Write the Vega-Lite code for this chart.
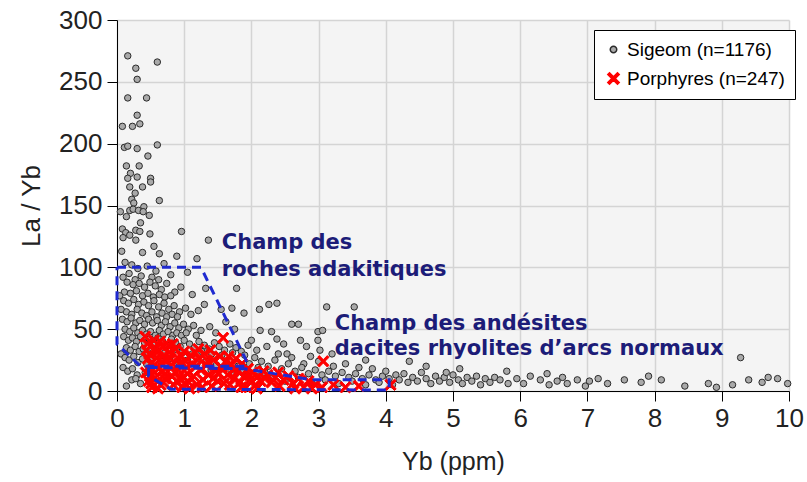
{
"$schema":"https://vega.github.io/schema/vega-lite/v6.json",
"width":672,"height":371,
"autosize":{"type":"none"},
"padding":{"left":117,"top":20,"right":18,"bottom":91},
"background":"white",
"config":{"view":{"fill":"#f4f4f4","stroke":null},"font":"Liberation Sans"},
"datasets":{
"pts":[
{"s":"S","x":0.16,"y":271},{"s":"S","x":0.6,"y":266},{"s":"S","x":0.28,"y":261},{"s":"S","x":0.3,"y":252},{"s":"S","x":0.16,"y":237},{"s":"S","x":0.44,"y":237},{"s":"S","x":0.3,"y":223},{"s":"S","x":0.08,"y":214},{"s":"S","x":0.23,"y":214},{"s":"S","x":0.34,"y":216},{"s":"S","x":0.11,"y":197},{"s":"S","x":0.16,"y":198},{"s":"S","x":0.3,"y":196},{"s":"S","x":0.6,"y":199},{"s":"S","x":0.46,"y":190},{"s":"S","x":0.14,"y":182},{"s":"S","x":0.33,"y":182},{"s":"S","x":0.2,"y":176},{"s":"S","x":0.16,"y":172},{"s":"S","x":0.3,"y":173},{"s":"S","x":0.5,"y":172},{"s":"S","x":0.5,"y":169},{"s":"S","x":0.19,"y":165},{"s":"S","x":0.38,"y":165},{"s":"S","x":0.27,"y":160},{"s":"S","x":0.22,"y":155},{"s":"S","x":0.25,"y":152},{"s":"S","x":0.63,"y":154},{"s":"S","x":0.05,"y":145},{"s":"S","x":0.14,"y":141},{"s":"S","x":0.19,"y":146},{"s":"S","x":0.24,"y":147},{"s":"S","x":0.32,"y":146},{"s":"S","x":0.4,"y":149},{"s":"S","x":0.39,"y":145},{"s":"S","x":0.48,"y":142},{"s":"S","x":0.35,"y":136},{"s":"S","x":0.08,"y":131},{"s":"S","x":0.13,"y":128},{"s":"S","x":0.19,"y":126},{"s":"S","x":0.28,"y":130},{"s":"S","x":0.34,"y":129},{"s":"S","x":0.49,"y":127},{"s":"S","x":0.96,"y":129},{"s":"S","x":1.36,"y":122},{"s":"S","x":0.09,"y":124},{"s":"S","x":0.28,"y":122},{"s":"S","x":0.55,"y":117},{"s":"S","x":0.89,"y":109},{"s":"S","x":1.19,"y":107},{"s":"S","x":0.07,"y":113},{"s":"S","x":0.38,"y":112},{"s":"S","x":0.63,"y":111},
{"s":"S","x":0.12,"y":104},{"s":"S","x":0.22,"y":102},{"s":"S","x":0.31,"y":99},{"s":"S","x":0.45,"y":101},{"s":"S","x":0.58,"y":97},{"s":"S","x":0.7,"y":103},{"s":"S","x":0.18,"y":95},{"s":"S","x":0.36,"y":93},{"s":"S","x":0.52,"y":92},{"s":"S","x":0.8,"y":94},{"s":"S","x":1.05,"y":96},{"s":"S","x":0.27,"y":90},{"s":"S","x":0.62,"y":90},{"s":"S","x":0.09,"y":92},
{"s":"S","x":0.15,"y":88},{"s":"S","x":0.24,"y":86},{"s":"S","x":0.33,"y":87},{"s":"S","x":0.41,"y":84},{"s":"S","x":0.49,"y":88},{"s":"S","x":0.57,"y":85},{"s":"S","x":0.66,"y":82},{"s":"S","x":0.74,"y":87},{"s":"S","x":0.86,"y":80},{"s":"S","x":0.95,"y":84},{"s":"S","x":1.12,"y":78},{"s":"S","x":0.11,"y":80},{"s":"S","x":0.2,"y":79},{"s":"S","x":0.29,"y":81},{"s":"S","x":0.38,"y":77},{"s":"S","x":0.46,"y":79},{"s":"S","x":0.54,"y":76},{"s":"S","x":0.63,"y":78},{"s":"S","x":0.71,"y":76},{"s":"S","x":0.8,"y":77},{"s":"S","x":1.32,"y":83},{"s":"S","x":0.04,"y":77},
{"s":"S","x":0.1,"y":73},{"s":"S","x":0.17,"y":71},{"s":"S","x":0.25,"y":74},{"s":"S","x":0.32,"y":70},{"s":"S","x":0.4,"y":72},{"s":"S","x":0.47,"y":69},{"s":"S","x":0.55,"y":73},{"s":"S","x":0.62,"y":68},{"s":"S","x":0.7,"y":71},{"s":"S","x":0.77,"y":66},{"s":"S","x":0.85,"y":69},{"s":"S","x":0.93,"y":64},{"s":"S","x":1.02,"y":67},{"s":"S","x":1.1,"y":62},{"s":"S","x":1.21,"y":65},{"s":"S","x":0.14,"y":64},{"s":"S","x":0.22,"y":62},{"s":"S","x":0.3,"y":66},{"s":"S","x":0.37,"y":63},{"s":"S","x":0.44,"y":61},{"s":"S","x":0.52,"y":64},{"s":"S","x":0.59,"y":60},{"s":"S","x":0.67,"y":63},{"s":"S","x":0.74,"y":60},{"s":"S","x":0.82,"y":62},{"s":"S","x":0.9,"y":60},{"s":"S","x":1.3,"y":70},{"s":"S","x":1.55,"y":66},{"s":"S","x":0.06,"y":66},
{"s":"S","x":0.08,"y":58},{"s":"S","x":0.15,"y":56},{"s":"S","x":0.21,"y":59},{"s":"S","x":0.28,"y":55},{"s":"S","x":0.34,"y":57},{"s":"S","x":0.41,"y":54},{"s":"S","x":0.47,"y":58},{"s":"S","x":0.53,"y":55},{"s":"S","x":0.6,"y":57},{"s":"S","x":0.66,"y":53},{"s":"S","x":0.72,"y":56},{"s":"S","x":0.79,"y":52},{"s":"S","x":0.86,"y":55},{"s":"S","x":0.92,"y":51},{"s":"S","x":0.99,"y":54},{"s":"S","x":1.06,"y":50},{"s":"S","x":1.14,"y":53},{"s":"S","x":1.25,"y":49},{"s":"S","x":1.38,"y":52},{"s":"S","x":1.47,"y":47},{"s":"S","x":0.12,"y":50},{"s":"S","x":0.19,"y":48},{"s":"S","x":0.25,"y":51},{"s":"S","x":0.31,"y":47},{"s":"S","x":0.38,"y":49},{"s":"S","x":0.44,"y":46},{"s":"S","x":0.5,"y":48},{"s":"S","x":0.57,"y":45},{"s":"S","x":0.63,"y":49},{"s":"S","x":0.69,"y":46},{"s":"S","x":0.76,"y":48},{"s":"S","x":0.83,"y":45},{"s":"S","x":0.89,"y":47},{"s":"S","x":0.96,"y":45},{"s":"S","x":1.03,"y":47},{"s":"S","x":1.18,"y":45},{"s":"S","x":1.62,"y":56},{"s":"S","x":1.75,"y":50},
{"s":"S","x":0.1,"y":44},{"s":"S","x":0.17,"y":41},{"s":"S","x":0.23,"y":43},{"s":"S","x":0.29,"y":40},{"s":"S","x":0.35,"y":44},{"s":"S","x":0.41,"y":39},{"s":"S","x":0.48,"y":42},{"s":"S","x":0.55,"y":38},{"s":"S","x":0.61,"y":43},{"s":"S","x":0.68,"y":40},{"s":"S","x":0.74,"y":37},{"s":"S","x":0.81,"y":42},{"s":"S","x":0.87,"y":39},{"s":"S","x":0.94,"y":36},{"s":"S","x":1.0,"y":41},{"s":"S","x":1.08,"y":38},{"s":"S","x":1.15,"y":35},{"s":"S","x":1.22,"y":40},{"s":"S","x":1.3,"y":37},{"s":"S","x":1.37,"y":34},{"s":"S","x":1.45,"y":39},{"s":"S","x":1.52,"y":36},{"s":"S","x":1.6,"y":33},{"s":"S","x":1.68,"y":38},{"s":"S","x":1.77,"y":35},{"s":"S","x":1.85,"y":32},{"s":"S","x":1.95,"y":37},{"s":"S","x":0.14,"y":35},{"s":"S","x":0.2,"y":33},{"s":"S","x":0.27,"y":36},{"s":"S","x":0.33,"y":32},{"s":"S","x":0.39,"y":34},{"s":"S","x":0.46,"y":31},{"s":"S","x":0.58,"y":33},{"s":"S","x":0.71,"y":31},{"s":"S","x":0.84,"y":33},{"s":"S","x":0.97,"y":31},{"s":"S","x":1.12,"y":30},{"s":"S","x":1.26,"y":32},{"s":"S","x":1.41,"y":30},{"s":"S","x":1.56,"y":29},{"s":"S","x":1.72,"y":31},{"s":"S","x":1.9,"y":29},
{"s":"S","x":0.06,"y":30},{"s":"S","x":0.12,"y":27},{"s":"S","x":0.18,"y":25},{"s":"S","x":0.25,"y":28},{"s":"S","x":0.31,"y":23},{"s":"S","x":0.38,"y":26},{"s":"S","x":0.44,"y":22},{"s":"S","x":0.52,"y":27},{"s":"S","x":0.65,"y":24},{"s":"S","x":0.78,"y":26},{"s":"S","x":0.92,"y":23},{"s":"S","x":1.05,"y":25},{"s":"S","x":1.19,"y":22},{"s":"S","x":1.33,"y":24},{"s":"S","x":1.48,"y":21},{"s":"S","x":1.63,"y":23},{"s":"S","x":1.8,"y":20},{"s":"S","x":1.97,"y":22},{"s":"S","x":2.1,"y":19},{"s":"S","x":0.09,"y":19},{"s":"S","x":0.16,"y":16},{"s":"S","x":0.23,"y":18},{"s":"S","x":0.3,"y":13},{"s":"S","x":0.22,"y":9},{"s":"S","x":0.14,"y":4},{"s":"S","x":0.35,"y":6},{"s":"S","x":0.28,"y":10},{"s":"S","x":0.42,"y":15},{"s":"S","x":1.4,"y":17},{"s":"S","x":1.7,"y":14},{"s":"S","x":1.88,"y":16},
{"s":"S","x":1.78,"y":83},{"s":"S","x":1.89,"y":63},{"s":"S","x":2.12,"y":66},{"s":"S","x":2.26,"y":70},{"s":"S","x":2.38,"y":71},{"s":"S","x":1.71,"y":67},{"s":"S","x":3.12,"y":68},{"s":"S","x":2.6,"y":54},{"s":"S","x":2.7,"y":54},{"s":"S","x":2.99,"y":48},{"s":"S","x":2.99,"y":41},{"s":"S","x":2.82,"y":36},{"s":"S","x":2.13,"y":49},{"s":"S","x":2.3,"y":48},{"s":"S","x":2.0,"y":41},{"s":"S","x":2.08,"y":33},{"s":"S","x":2.23,"y":36},{"s":"S","x":2.38,"y":42},{"s":"S","x":2.53,"y":30},{"s":"S","x":2.78,"y":22},{"s":"S","x":3.22,"y":20},{"s":"S","x":3.53,"y":68},{"s":"S","x":3.06,"y":49},{"s":"S","x":2.73,"y":41},
{"s":"S","x":2.05,"y":27},{"s":"S","x":2.15,"y":24},{"s":"S","x":2.25,"y":20},{"s":"S","x":2.35,"y":25},{"s":"S","x":2.45,"y":18},{"s":"S","x":2.55,"y":22},{"s":"S","x":2.65,"y":16},{"s":"S","x":2.75,"y":19},{"s":"S","x":2.85,"y":14},{"s":"S","x":2.95,"y":17},{"s":"S","x":3.05,"y":13},{"s":"S","x":3.15,"y":16},{"s":"S","x":3.25,"y":12},{"s":"S","x":3.35,"y":15},{"s":"S","x":3.45,"y":11},{"s":"S","x":3.55,"y":14},{"s":"S","x":3.65,"y":10},{"s":"S","x":3.75,"y":13},{"s":"S","x":3.85,"y":9},{"s":"S","x":3.95,"y":12},{"s":"S","x":4.05,"y":10},{"s":"S","x":4.15,"y":13},{"s":"S","x":2.1,"y":12},{"s":"S","x":2.3,"y":10},{"s":"S","x":2.5,"y":8},{"s":"S","x":2.7,"y":11},{"s":"S","x":2.9,"y":7},{"s":"S","x":3.1,"y":9},{"s":"S","x":3.3,"y":6},{"s":"S","x":3.5,"y":8},{"s":"S","x":3.7,"y":5},{"s":"S","x":3.9,"y":7},{"s":"S","x":4.1,"y":5},{"s":"S","x":2.4,"y":30},{"s":"S","x":2.6,"y":27},{"s":"S","x":2.88,"y":28},{"s":"S","x":3.0,"y":24},{"s":"S","x":3.4,"y":22},{"s":"S","x":3.6,"y":19},{"s":"S","x":3.8,"y":18},{"s":"S","x":4.0,"y":16},{"s":"S","x":3.2,"y":30},{"s":"S","x":3.7,"y":25},{"s":"S","x":2.2,"y":15},{"s":"S","x":1.95,"y":12},{"s":"S","x":3.02,"y":33},{"s":"S","x":2.48,"y":38},
{"s":"S","x":4.2,"y":9},{"s":"S","x":4.27,"y":14},{"s":"S","x":4.33,"y":7},{"s":"S","x":4.4,"y":11},{"s":"S","x":4.47,"y":8},{"s":"S","x":4.53,"y":15},{"s":"S","x":4.6,"y":10},{"s":"S","x":4.67,"y":6},{"s":"S","x":4.74,"y":12},{"s":"S","x":4.8,"y":8},{"s":"S","x":4.87,"y":11},{"s":"S","x":4.95,"y":7},{"s":"S","x":5.0,"y":13},{"s":"S","x":5.08,"y":9},{"s":"S","x":5.14,"y":6},{"s":"S","x":5.21,"y":11},{"s":"S","x":5.28,"y":8},{"s":"S","x":5.35,"y":12},{"s":"S","x":5.41,"y":5},{"s":"S","x":5.48,"y":10},{"s":"S","x":5.55,"y":7},{"s":"S","x":5.62,"y":11},{"s":"S","x":5.7,"y":9},{"s":"S","x":5.82,"y":6},{"s":"S","x":5.95,"y":10},{"s":"S","x":6.05,"y":6},{"s":"S","x":6.15,"y":12},{"s":"S","x":6.3,"y":9},{"s":"S","x":6.43,"y":5},{"s":"S","x":6.55,"y":8},{"s":"S","x":6.63,"y":11},{"s":"S","x":6.7,"y":6},{"s":"S","x":6.85,"y":9},{"s":"S","x":6.97,"y":4},{"s":"S","x":7.03,"y":8},{"s":"S","x":7.16,"y":10},{"s":"S","x":7.3,"y":6},{"s":"S","x":7.55,"y":9},{"s":"S","x":7.8,"y":7},{"s":"S","x":7.91,"y":12},{"s":"S","x":8.1,"y":9},{"s":"S","x":8.45,"y":4},{"s":"S","x":8.8,"y":6},{"s":"S","x":8.92,"y":3},{"s":"S","x":9.16,"y":5},{"s":"S","x":9.28,"y":27},{"s":"S","x":9.4,"y":9},{"s":"S","x":9.6,"y":7},{"s":"S","x":9.69,"y":11},{"s":"S","x":9.83,"y":10},{"s":"S","x":9.98,"y":6},{"s":"S","x":5.1,"y":18},{"s":"S","x":4.6,"y":20},{"s":"S","x":5.8,"y":16},{"s":"S","x":6.4,"y":14},{"s":"S","x":4.35,"y":24},{"s":"S","x":4.9,"y":15},
{"s":"P","x":0.42,"y":44},{"s":"P","x":0.45,"y":38},{"s":"P","x":0.48,"y":30},{"s":"P","x":0.5,"y":22},{"s":"P","x":0.43,"y":15},{"s":"P","x":0.47,"y":8},{"s":"P","x":0.52,"y":3},{"s":"P","x":0.55,"y":41},{"s":"P","x":0.58,"y":34},{"s":"P","x":0.6,"y":27},{"s":"P","x":0.62,"y":18},{"s":"P","x":0.57,"y":11},{"s":"P","x":0.65,"y":5},{"s":"P","x":0.68,"y":36},{"s":"P","x":0.7,"y":29},{"s":"P","x":0.66,"y":23},{"s":"P","x":0.72,"y":14},{"s":"P","x":0.69,"y":7},{"s":"P","x":0.46,"y":26},{"s":"P","x":0.53,"y":17},{"s":"P","x":0.61,"y":2},{"s":"P","x":0.44,"y":33},{"s":"P","x":0.49,"y":12},{"s":"P","x":0.64,"y":40},{"s":"P","x":0.56,"y":21},{"s":"P","x":0.71,"y":10},{"s":"P","x":0.59,"y":31},{"s":"P","x":0.67,"y":16},{"s":"P","x":0.51,"y":6},{"s":"P","x":0.74,"y":25},
{"s":"P","x":0.76,"y":37},{"s":"P","x":0.78,"y":31},{"s":"P","x":0.8,"y":20},{"s":"P","x":0.82,"y":12},{"s":"P","x":0.84,"y":5},{"s":"P","x":0.87,"y":34},{"s":"P","x":0.9,"y":27},{"s":"P","x":0.92,"y":17},{"s":"P","x":0.95,"y":9},{"s":"P","x":0.97,"y":3},{"s":"P","x":1.0,"y":32},{"s":"P","x":1.02,"y":24},{"s":"P","x":1.05,"y":14},{"s":"P","x":1.07,"y":7},{"s":"P","x":1.1,"y":29},{"s":"P","x":0.79,"y":26},{"s":"P","x":0.86,"y":15},{"s":"P","x":0.93,"y":22},{"s":"P","x":0.99,"y":11},{"s":"P","x":1.04,"y":19},{"s":"P","x":1.08,"y":2},{"s":"P","x":0.83,"y":38},{"s":"P","x":0.89,"y":8},{"s":"P","x":0.96,"y":28},{"s":"P","x":1.01,"y":6},
{"s":"P","x":1.12,"y":22},{"s":"P","x":1.14,"y":12},{"s":"P","x":1.17,"y":31},{"s":"P","x":1.19,"y":5},{"s":"P","x":1.22,"y":26},{"s":"P","x":1.25,"y":17},{"s":"P","x":1.28,"y":9},{"s":"P","x":1.3,"y":30},{"s":"P","x":1.33,"y":21},{"s":"P","x":1.36,"y":13},{"s":"P","x":1.39,"y":33},{"s":"P","x":1.41,"y":4},{"s":"P","x":1.44,"y":25},{"s":"P","x":1.47,"y":16},{"s":"P","x":1.5,"y":8},{"s":"P","x":1.53,"y":28},{"s":"P","x":1.56,"y":19},{"s":"P","x":1.58,"y":43},{"s":"P","x":1.18,"y":20},{"s":"P","x":1.27,"y":3},{"s":"P","x":1.35,"y":24},{"s":"P","x":1.43,"y":10},{"s":"P","x":1.52,"y":14},{"s":"P","x":1.59,"y":6},{"s":"P","x":1.21,"y":34},
{"s":"P","x":1.62,"y":24},{"s":"P","x":1.65,"y":13},{"s":"P","x":1.68,"y":5},{"s":"P","x":1.71,"y":21},{"s":"P","x":1.74,"y":10},{"s":"P","x":1.77,"y":26},{"s":"P","x":1.8,"y":16},{"s":"P","x":1.83,"y":7},{"s":"P","x":1.86,"y":22},{"s":"P","x":1.89,"y":12},{"s":"P","x":1.92,"y":3},{"s":"P","x":1.95,"y":18},{"s":"P","x":1.98,"y":9},{"s":"P","x":2.02,"y":15},{"s":"P","x":2.06,"y":5},{"s":"P","x":2.1,"y":12},{"s":"P","x":2.14,"y":8},{"s":"P","x":2.18,"y":16},{"s":"P","x":1.73,"y":17},{"s":"P","x":1.85,"y":3},{"s":"P","x":1.97,"y":13},{"s":"P","x":2.08,"y":2},{"s":"P","x":1.66,"y":28},{"s":"P","x":2.2,"y":10},
{"s":"P","x":2.24,"y":13},{"s":"P","x":2.3,"y":7},{"s":"P","x":2.36,"y":11},{"s":"P","x":2.42,"y":4},{"s":"P","x":2.48,"y":9},{"s":"P","x":2.55,"y":12},{"s":"P","x":2.62,"y":6},{"s":"P","x":2.7,"y":10},{"s":"P","x":2.78,"y":3},{"s":"P","x":2.85,"y":8},{"s":"P","x":2.95,"y":5},{"s":"P","x":3.07,"y":24},{"s":"P","x":3.22,"y":5},{"s":"P","x":4.07,"y":5},{"s":"P","x":3.05,"y":3},{"s":"P","x":2.4,"y":15},{"s":"P","x":2.65,"y":2},{"s":"P","x":2.9,"y":2},{"s":"P","x":3.4,"y":3},{"s":"P","x":3.6,"y":4}
],
"poly":[
{"f":"adakite","i":0,"x":0,"y":100},{"f":"adakite","i":1,"x":1.25,"y":100},{"f":"adakite","i":2,"x":1.92,"y":25},{"f":"adakite","i":3,"x":1.92,"y":20},{"f":"adakite","i":4,"x":0.35,"y":20},{"f":"adakite","i":5,"x":0,"y":38},{"f":"adakite","i":6,"x":0,"y":100},
{"f":"arc","i":0,"x":0.47,"y":19},{"f":"arc","i":1,"x":1.9,"y":18},{"f":"arc","i":2,"x":2.9,"y":9},{"f":"arc","i":3,"x":4.05,"y":9},{"f":"arc","i":4,"x":4.05,"y":0.8},{"f":"arc","i":5,"x":0.8,"y":1.5},{"f":"arc","i":6,"x":0.47,"y":12},{"f":"arc","i":7,"x":0.47,"y":19}
],
"labels":[
{"t":"Champ des","x":1.56,"y":115},{"t":"roches adakitiques","x":1.56,"y":93},
{"t":"Champ des andésites","x":3.24,"y":49},{"t":"dacites rhyolites d’arcs normaux","x":3.24,"y":29}
]
},
"layer":[
{"data":{"name":"pts"},
 "mark":{"type":"point","filled":true,"strokeWidth":1,"opacity":1},
 "encoding":{
  "x":{"field":"x","type":"quantitative","scale":{"domain":[0,10],"nice":false,"zero":false},
       "axis":{"values":[0,1,2,3,4,5,6,7,8,9,10],"format":"d","title":"Yb (ppm)","grid":true,"gridColor":"#d4d4d4","gridWidth":1.5,"domainColor":"#000","tickColor":"#000","tickSize":10,"labelFontSize":26,"labelColor":"#222","labelPadding":4,"titleFontSize":25,"titleFontWeight":"normal","titleColor":"#222","titlePadding":18,"labelFlush":false}},
  "y":{"field":"y","type":"quantitative","scale":{"domain":[0,300],"nice":false},
       "axis":{"values":[0,50,100,150,200,250,300],"format":"d","title":"La / Yb","grid":true,"gridColor":"#d4d4d4","gridWidth":1.5,"domainColor":"#000","tickColor":"#000","tickSize":10,"labelFontSize":26,"labelColor":"#222","labelPadding":5,"titleFontSize":26,"titleFontWeight":"normal","titleColor":"#222","titlePadding":14,"labelFlush":false}},
  "color":{"field":"s","type":"nominal","scale":{"domain":["S","P"],"range":["#a9a9a9","#ff0000"]},
       "legend":{"title":null,"orient":"none","legendX":477,"legendY":10,"fillColor":"white","strokeColor":"#000","padding":10,"labelFontSize":19,"labelColor":"#000","rowPadding":9,"labelExpr":"datum.value == 'S' ? 'Sigeom (n=1176)' : 'Porphyres (n=247)'"}},
  "stroke":{"field":"s","type":"nominal","scale":{"domain":["S","P"],"range":["#2b2b2b","#ff0000"]},"legend":{"title":null}},
  "shape":{"field":"s","type":"nominal","scale":{"domain":["S","P"],"range":["circle","M-1,-0.7L-0.7,-1L0,-0.3L0.7,-1L1,-0.7L0.3,0L1,0.7L0.7,1L0,0.3L-0.7,1L-1,0.7L-0.3,0Z"]},"legend":{"title":null}},
  "size":{"field":"s","type":"nominal","scale":{"type":"ordinal","domain":["S","P"],"range":[42,130]},"legend":{"title":null}}
 }},
{"data":{"name":"poly"},
 "mark":{"type":"line","color":"#1f2ad0","strokeWidth":3,"strokeDash":[9,6],"clip":false},
 "encoding":{"x":{"field":"x","type":"quantitative"},"y":{"field":"y","type":"quantitative"},"detail":{"field":"f"},"order":{"field":"i","type":"quantitative"}}},
{"data":{"name":"labels"},
 "mark":{"type":"text","align":"left","baseline":"alphabetic","font":"DejaVu Sans","fontSize":21,"fontWeight":"bold","color":"#1c1c78"},
 "encoding":{"x":{"field":"x","type":"quantitative"},"y":{"field":"y","type":"quantitative"},"text":{"field":"t"}}}
]
}
